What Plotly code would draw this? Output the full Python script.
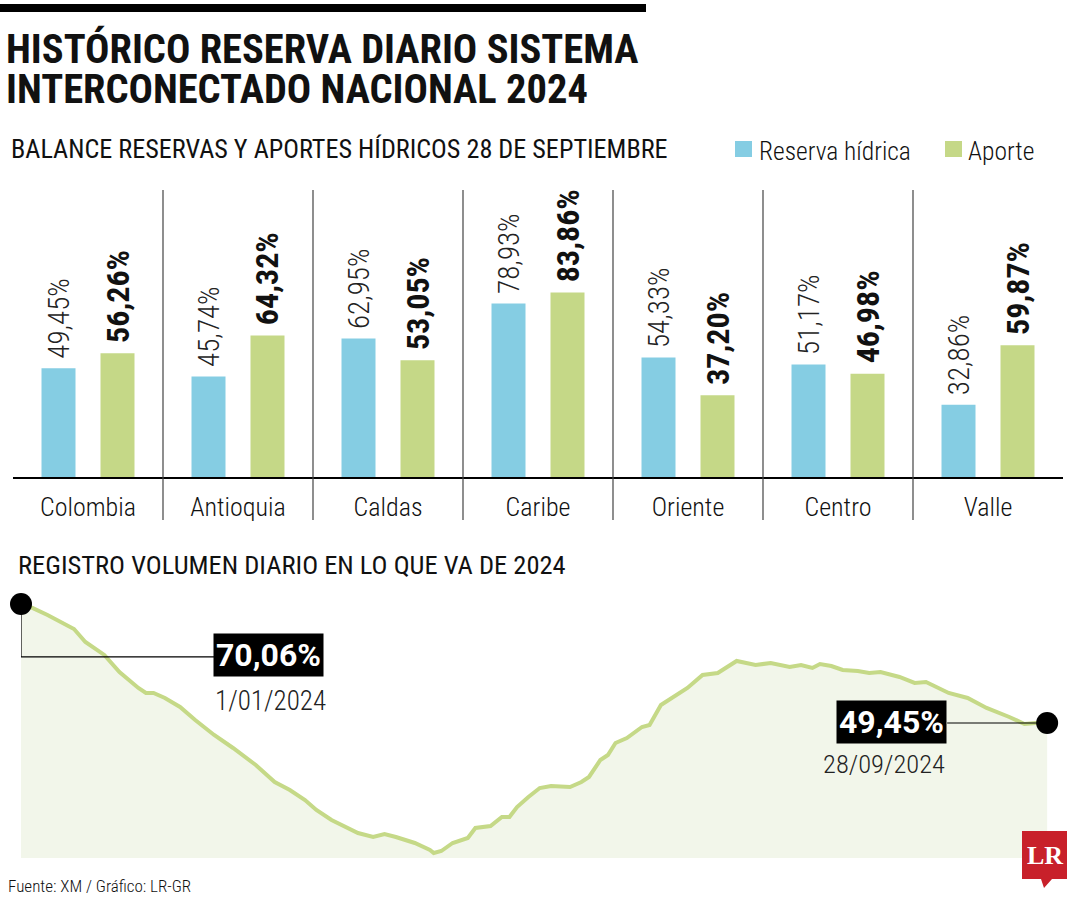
import plotly.graph_objects as go
import pandas as pd

W, H = 1080, 900


def px(x):
    return x / W


def py(y):
    return 1 - y / H


# ---------------- data ----------------
categories = ["Colombia", "Antioquia", "Caldas", "Caribe", "Oriente", "Centro", "Valle"]
series_names = ["Reserva hídrica", "Aporte"]
reserva = [49.45, 45.74, 62.95, 78.93, 54.33, 51.17, 32.86]
aporte = [56.26, 64.32, 53.05, 83.86, 37.20, 46.98, 59.87]

dates = [
    "2024-01-01", "2024-01-04", "2024-01-08", "2024-01-12", "2024-01-15", "2024-01-18", "2024-01-23", "2024-01-27",
    "2024-02-01", "2024-02-03", "2024-02-05", "2024-02-08", "2024-02-12", "2024-02-16", "2024-02-21", "2024-02-26",
    "2024-03-03", "2024-03-08", "2024-03-12", "2024-03-16", "2024-03-19", "2024-03-23", "2024-03-27", "2024-03-30",
    "2024-04-03", "2024-04-06", "2024-04-09", "2024-04-14", "2024-04-18", "2024-04-19", "2024-04-21", "2024-04-24",
    "2024-04-28", "2024-04-30",
    "2024-05-04", "2024-05-07", "2024-05-09", "2024-05-11", "2024-05-14", "2024-05-17", "2024-05-20", "2024-05-25",
    "2024-05-28", "2024-05-30",
    "2024-06-02", "2024-06-04", "2024-06-06", "2024-06-09", "2024-06-13", "2024-06-15", "2024-06-18", "2024-06-21",
    "2024-06-25", "2024-06-29",
    "2024-07-03", "2024-07-08", "2024-07-13", "2024-07-17", "2024-07-22", "2024-07-25", "2024-07-28", "2024-07-30",
    "2024-08-02", "2024-08-05", "2024-08-09", "2024-08-12", "2024-08-15", "2024-08-20", "2024-08-24", "2024-08-27",
    "2024-09-02", "2024-09-07", "2024-09-12", "2024-09-18", "2024-09-22", "2024-09-25", "2024-09-28",
]
volumen = [
    70.06, 69.37, 68.15, 66.77, 65.73, 63.48, 61.23, 58.28,
    55.51, 54.65, 54.65, 53.78, 52.22, 49.97, 47.37, 45.12,
    42.18, 39.23, 37.85, 36.11, 34.38, 32.65, 31.44, 30.40,
    29.71, 30.23, 29.71, 28.67, 27.45, 26.93, 27.28, 28.67, 29.53, 31.27,
    31.61, 33.17, 33.17, 34.90, 36.63, 38.19, 38.54, 38.37, 39.23, 40.10,
    43.04, 43.91, 45.99, 46.85, 48.76, 49.10, 52.57, 53.78, 55.51, 57.76,
    58.11, 60.19, 59.50, 59.84, 59.15, 59.50, 58.98, 59.67,
    59.32, 58.63, 58.46, 58.11, 58.28, 57.42, 56.38, 56.55,
    54.65, 53.78, 52.05, 50.49, 49.28, 49.45, 49.45,
]


def pct(v):
    return f"{v:.2f}%".replace(".", ",")


def fecha(d):
    t = pd.Timestamp(d)
    return f"{t.day}/{t.month:02d}/{t.year}"


# ---------------- style ----------------
COND = "Roboto Condensed, Roboto, sans-serif"
TITLE = "Roboto Condensed, Roboto, sans-serif"
BOXF = "Roboto, sans-serif"
BLUE = "#85cde3"
GREEN = "#c5d887"
LINE = "#c5d987"
FILL = "#f2f6ea"
INK = "#111111"
NBSP = "\u00a0"

fig = go.Figure()

fig.add_trace(go.Bar(
    x=categories, y=reserva, name=series_names[0],
    marker=dict(color=BLUE, line=dict(width=0)),
    width=0.2267, offset=-0.31,
    text=[NBSP + pct(v) for v in reserva], textposition="outside", textangle=-90,
    constraintext="none", cliponaxis=False,
    textfont=dict(family=COND, size=29, color="#222", weight=300),
    showlegend=False, hoverinfo="skip",
    xaxis="x", yaxis="y",
))
fig.add_trace(go.Bar(
    x=categories, y=aporte, name=series_names[1],
    marker=dict(color=GREEN, line=dict(width=0)),
    width=0.2267, offset=0.0833,
    text=[NBSP + pct(v) for v in aporte],
    textposition="outside", textangle=-90,
    constraintext="none", cliponaxis=False,
    textfont=dict(family=COND, size=32, color=INK, weight="bold"),
    showlegend=False, hoverinfo="skip",
    xaxis="x", yaxis="y",
))

end_x = pd.Timestamp(dates[-1]) + pd.Timedelta(days=2.6)

fig.add_trace(go.Scatter(
    x=dates, y=volumen, mode="lines",
    line=dict(color=LINE, width=4),
    fill="tozeroy", fillcolor=FILL,
    showlegend=False, hoverinfo="skip",
    xaxis="x2", yaxis="y2",
))
fig.add_trace(go.Scatter(
    x=[dates[0], dates[-1]], y=[volumen[0], volumen[-1]], mode="markers",
    marker=dict(color="black", size=22),
    showlegend=False, cliponaxis=False, hoverinfo="skip",
    xaxis="x2", yaxis="y2",
))

shapes = []
# top black bar
shapes.append(dict(type="rect", xref="paper", yref="paper", x0=px(0), x1=px(646), y0=py(12), y1=py(4),
                   fillcolor="black", line=dict(width=0)))
# legend squares
for (x0, col) in [(735, BLUE), (945, GREEN)]:
    shapes.append(dict(type="rect", xref="paper", yref="paper", x0=px(x0), x1=px(x0 + 17),
                       y0=py(157), y1=py(141), fillcolor=col, line=dict(width=0)))
# category separators
for i in range(len(categories) - 1):
    shapes.append(dict(type="line", xref="x", yref="paper", x0=i + 0.5, x1=i + 0.5,
                       y0=py(520), y1=py(190), line=dict(color="#444", width=1.2)))
# connectors (pixel offsets anchored at data points)
shapes.append(dict(type="path", xref="x2", yref="y2", xsizemode="pixel", ysizemode="pixel",
                   xanchor=dates[0], yanchor=volumen[0],
                   path="M 0 0 L 0 -53 L 193 -53", line=dict(color="black", width=1.2)))
shapes.append(dict(type="path", xref="x2", yref="y2", xsizemode="pixel", ysizemode="pixel",
                   xanchor=dates[-1], yanchor=volumen[-1],
                   path="M 0 0 L -100 0", line=dict(color="black", width=1.2)))
# LR logo
shapes.append(dict(type="path", xref="paper", yref="paper",
                   path=f"M {px(1022)} {py(831)} L {px(1067)} {py(831)} L {px(1067)} {py(879)} "
                        f"L {px(1052)} {py(879)} L {px(1044)} {py(888)} L {px(1041)} {py(879)} "
                        f"L {px(1022)} {py(879)} Z",
                   fillcolor="#c8202a", line=dict(width=0)))

ann = []
ann.append(dict(text="HISTÓRICO RESERVA DIARIO SISTEMA", xref="paper", yref="paper",
                x=px(4), y=py(49), xanchor="left", yanchor="middle", showarrow=False,
                font=dict(family=TITLE, size=40.5, color=INK, weight="bold")))
ann.append(dict(text="INTERCONECTADO NACIONAL 2024", xref="paper", yref="paper",
                x=px(4), y=py(89), xanchor="left", yanchor="middle", showarrow=False,
                font=dict(family=TITLE, size=40.5, color=INK, weight="bold")))
ann.append(dict(text="BALANCE RESERVAS Y APORTES HÍDRICOS 28 DE SEPTIEMBRE", xref="paper", yref="paper",
                x=px(9), y=py(149), xanchor="left", yanchor="middle", showarrow=False,
                font=dict(family=COND, size=26.2, color=INK)))
# legend texts
ann.append(dict(text=series_names[0], xref="paper", yref="paper",
                x=px(757), y=py(151), xanchor="left", yanchor="middle", showarrow=False,
                font=dict(family=COND, size=25.5, color=INK, weight=300)))
ann.append(dict(text=series_names[1], xref="paper", yref="paper",
                x=px(966), y=py(151), xanchor="left", yanchor="middle", showarrow=False,
                font=dict(family=COND, size=25.5, color=INK, weight=300)))
ann.append(dict(text="REGISTRO VOLUMEN DIARIO EN LO QUE VA DE 2024", xref="paper", yref="paper",
                x=px(16), y=py(564), xanchor="left", yanchor="middle", showarrow=False,
                font=dict(family=COND, size=26.5, color=INK)))
ann.append(dict(text="Fuente: XM / Gráfico: LR-GR", xref="paper", yref="paper",
                x=px(6), y=py(886), xanchor="left", yanchor="middle", showarrow=False,
                font=dict(family=COND, size=17, color=INK, weight=300)))
ann.append(dict(text="<b>LR</b>", xref="paper", yref="paper",
                x=px(1044.5), y=py(855), xanchor="center", yanchor="middle", showarrow=False,
                font=dict(family="Liberation Serif, DejaVu Serif, serif", size=26, color="white")))
# value boxes
ann.append(dict(text=pct(volumen[0]), xref="x2", yref="y2", x=dates[0], y=volumen[0],
                xanchor="left", yanchor="middle", xshift=192, yshift=-51, showarrow=False,
                bgcolor="black", borderpad=2,
                font=dict(family=BOXF, size=32, color="white", weight="bold")))
ann.append(dict(text=fecha(dates[0]), xref="x2", yref="y2", x=dates[0], y=volumen[0],
                xanchor="left", yanchor="middle", xshift=192, yshift=-97, showarrow=False,
                font=dict(family=COND, size=27, color="#222", weight=300)))
ann.append(dict(text=pct(volumen[-1]), xref="x2", yref="y2", x=dates[-1], y=volumen[-1],
                xanchor="right", yanchor="middle", xshift=-100, yshift=1, showarrow=False,
                bgcolor="black", borderpad=2,
                font=dict(family=BOXF, size=32, color="white", weight="bold")))
ann.append(dict(text=fecha(dates[-1]), xref="x2", yref="y2", x=dates[-1], y=volumen[-1],
                xanchor="right", yanchor="middle", xshift=-100, yshift=-41, showarrow=False,
                font=dict(family=COND, size=26.5, color="#222", weight=300)))

fig.update_layout(
    width=W, height=H, margin=dict(l=0, r=0, t=0, b=0),
    paper_bgcolor="white", plot_bgcolor="rgba(0,0,0,0)",
    barmode="overlay",
    showlegend=False,
    xaxis=dict(domain=[px(13), px(1063)], type="category", range=[-0.5, 6.5],
               showline=True, linecolor="black", linewidth=1.5, showgrid=False, zeroline=False,
               ticks="", ticklabelstandoff=6,
               tickfont=dict(family=COND, size=26, color=INK, weight=300), fixedrange=True),
    yaxis=dict(domain=[py(477), py(190)], range=[0, 130.5], visible=False, showgrid=False,
               fixedrange=True),
    xaxis2=dict(domain=[px(21), px(1057)], range=[dates[0], end_x], visible=False, showgrid=False,
                anchor="y2"),
    yaxis2=dict(domain=[py(858), py(590)], range=[26.07, 72.48], visible=False, showgrid=False,
                anchor="x2"),
    shapes=shapes, annotations=ann,
    font=dict(family=COND, color=INK),
)

fig.write_html("out.html", config={"displayModeBar": False},
               post_script="document.body.style.margin='0';")
